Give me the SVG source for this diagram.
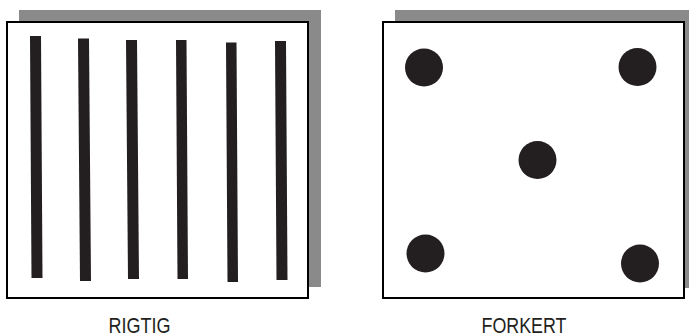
<svg xmlns="http://www.w3.org/2000/svg" width="689" height="334" viewBox="0 0 689 334">
<style>
.shadow{fill:#8a8a8a}
.frame{fill:#fff;stroke:#000;stroke-width:2}
.bar{fill:#231f20}
.dot{fill:#231f20}
.lbl{font-family:"Liberation Sans",Arial,sans-serif;font-size:22px;fill:#231f20;text-anchor:middle}
</style>
<rect width="689" height="334" fill="#fff"/>
<g id="rigtig">
<rect class="shadow" x="19" y="10" width="302" height="277"/>
<rect class="frame" x="7" y="22" width="301" height="276"/>
<polygon class="bar" points="30,36 41,36 42.5,278 31.5,278"/>
<polygon class="bar" points="78,38.5 89,38.5 91,281 80,281"/>
<polygon class="bar" points="126,40 137,40 139,279 128,279"/>
<polygon class="bar" points="176,40 186.5,40 188,279 177.5,279"/>
<polygon class="bar" points="226,42.5 236.5,42.5 238,282 227.5,282"/>
<polygon class="bar" points="275,41 286,41 287.5,280 276.5,280"/>
<text class="lbl" x="139.5" y="332.5" textLength="62" lengthAdjust="spacingAndGlyphs">RIGTIG</text>
</g>
<g id="forkert">
<rect class="shadow" x="395" y="10" width="294" height="278"/>
<rect class="frame" x="383" y="22" width="301" height="276"/>
<circle class="dot" cx="424" cy="67.5" r="19"/>
<circle class="dot" cx="637.5" cy="67" r="19"/>
<circle class="dot" cx="537.5" cy="160" r="19"/>
<circle class="dot" cx="425.5" cy="253.5" r="19"/>
<circle class="dot" cx="640" cy="263.5" r="19"/>
<text class="lbl" x="524" y="332.5" textLength="85" lengthAdjust="spacingAndGlyphs">FORKERT</text>
</g>
<g id="connectors"/>
</svg>
